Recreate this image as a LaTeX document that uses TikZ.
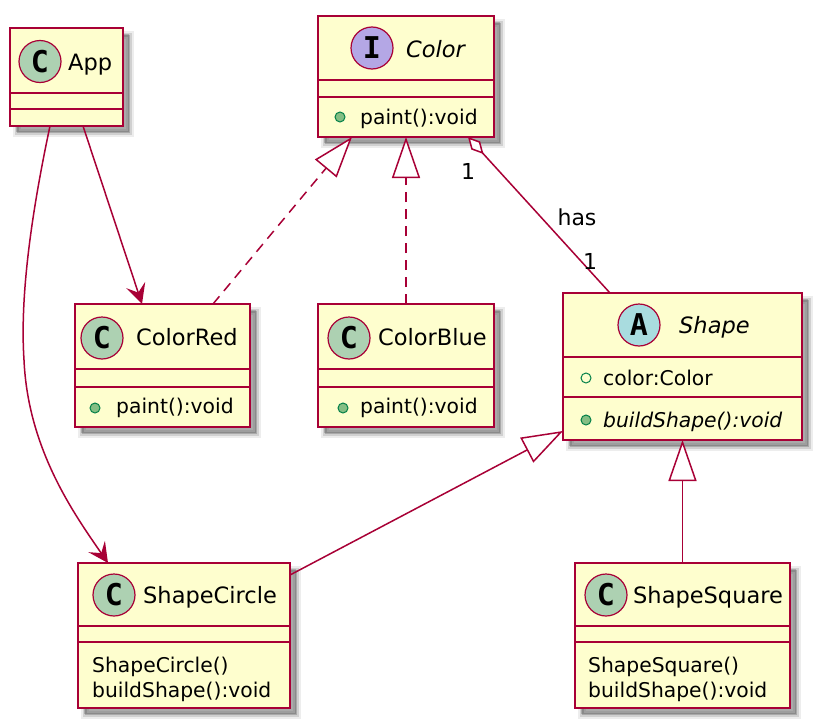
\documentclass[tikz,border=0pt]{standalone}
\usepackage{fontspec}
\setmainfont{DejaVu Sans}
\newfontfamily\spotfont{DejaVu Sans Mono}
\usetikzlibrary{arrows.meta,fit}
\definecolor{umlborder}{HTML}{A80036}
\definecolor{umlfill}{HTML}{FEFECE}
\definecolor{spotC}{HTML}{ADD1B2}
\definecolor{spotI}{HTML}{B4A7E5}
\definecolor{spotA}{HTML}{A9DCDF}
\definecolor{pubfill}{HTML}{84BE84}
\definecolor{publine}{HTML}{038048}
\begin{document}
\begin{tikzpicture}[x=1pt,y=-1pt,
  classbox/.style={draw=umlborder, fill=umlfill, line width=2.2pt, inner sep=0pt, outer sep=0pt,
    preaction={fill=black, opacity=0.07, draw=black, line width=8pt, transform canvas={xshift=7pt,yshift=-7pt}},
    preaction={fill=black, opacity=0.12, draw=black, line width=4pt, transform canvas={xshift=7pt,yshift=-7pt}},
    preaction={fill=black, opacity=0.18, transform canvas={xshift=6pt,yshift=-6pt}}},
  sepline/.style={draw=umlborder, line width=2.2pt},
  spot/.style={circle, draw=umlborder, line width=1.2pt, minimum size=42pt, inner sep=0pt,
    font=\spotfont\bfseries\fontsize{30}{30}\selectfont},
  title/.style={inner sep=0pt, anchor=base west, font=\fontsize{22.5}{26}\selectfont},
  member/.style={inner sep=0pt, anchor=base west, font=\fontsize{20.3}{24}\selectfont},
  pubmeth/.style={circle, draw=publine, fill=pubfill, line width=1pt, minimum size=10pt, inner sep=0pt},
  pubfield/.style={circle, draw=publine, fill=umlfill, line width=1pt, minimum size=10pt, inner sep=0pt},
  link/.style={draw=umlborder, line width=1.5pt},
  arrowto/.style={-{Stealth[length=20pt,width=20pt,inset=8pt]}},
  realize/.style={dash pattern=on 10pt off 7pt, -{Triangle[open,length=41pt,width=28pt,fill=white]}},
  extend/.style={-{Triangle[open,length=41pt,width=28pt,fill=white]}},
  aggr/.style={{Diamond[open,length=23pt,width=12pt,fill=white]}-},
  elabel/.style={inner sep=0pt, anchor=base, font=\fontsize{22}{26}\selectfont}]

\useasboundingbox[fill=white] (0,0) rectangle (814,728);

% ---------- App ----------
\node[classbox, fit={(10,28) (123,126)}] (App) {};
\draw[sepline] (App.west |- 0,93) -- (App.east |- 0,93);
\draw[sepline] (App.west |- 0,109) -- (App.east |- 0,109);
\node[spot, fill=spotC] (AppSpot) at (40,61.5) {C};
\node[title] (AppName) at (68,70) {App};

% ---------- Color ----------
\node[classbox, fit={(318,16) (494,137)}] (Color) {};
\draw[sepline] (Color.west |- 0,80) -- (Color.east |- 0,80);
\draw[sepline] (Color.west |- 0,97) -- (Color.east |- 0,97);
\node[spot, fill=spotI] (ColorSpot) at (372,48) {I};
\node[title] (ColorName) at (406,57) {\itshape Color};
\node[pubmeth] (ColorB1) at (340,117) {};
\node[member] (ColorM1) at (360,124) {paint():void};

% ---------- ColorRed ----------
\node[classbox, fit={(75,304) (250,427)}] (ColorRed) {};
\draw[sepline] (ColorRed.west |- 0,369) -- (ColorRed.east |- 0,369);
\draw[sepline] (ColorRed.west |- 0,387) -- (ColorRed.east |- 0,387);
\node[spot, fill=spotC] (ColorRedSpot) at (102,338) {C};
\node[title] (ColorRedName) at (136,345) {ColorRed};
\node[pubmeth] (ColorRedB1) at (95,408) {};
\node[member] (ColorRedM1) at (116,413) {paint():void};

% ---------- ColorBlue ----------
\node[classbox, fit={(318,304) (494,427)}] (ColorBlue) {};
\draw[sepline] (ColorBlue.west |- 0,369) -- (ColorBlue.east |- 0,369);
\draw[sepline] (ColorBlue.west |- 0,387) -- (ColorBlue.east |- 0,387);
\node[spot, fill=spotC] (ColorBlueSpot) at (349,338) {C};
\node[title] (ColorBlueName) at (378,345) {ColorBlue};
\node[pubmeth] (ColorBlueB1) at (343,408) {};
\node[member] (ColorBlueM1) at (360,413) {paint():void};

% ---------- Shape ----------
\node[classbox, fit={(563,293) (802,440)}] (Shape) {};
\draw[sepline] (Shape.west |- 0,357) -- (Shape.east |- 0,357);
\draw[sepline] (Shape.west |- 0,397) -- (Shape.east |- 0,397);
\node[spot, fill=spotA] (ShapeSpot) at (639,325) {A};
\node[title] (ShapeName) at (679,333) {\itshape Shape};
\node[pubfield] (ShapeB1) at (586,378) {};
\node[member] (ShapeM1) at (603,385) {color:Color};
\node[pubmeth] (ShapeB2) at (586,420) {};
\node[member] (ShapeM2) at (603,427) {\itshape buildShape():void};

% ---------- ShapeCircle ----------
\node[classbox, fit={(78,563) (290,708)}] (ShapeCircle) {};
\draw[sepline] (ShapeCircle.west |- 0,626) -- (ShapeCircle.east |- 0,626);
\draw[sepline] (ShapeCircle.west |- 0,642) -- (ShapeCircle.east |- 0,642);
\node[spot, fill=spotC] (ShapeCircleSpot) at (114,595) {C};
\node[title] (ShapeCircleName) at (143,603) {ShapeCircle};
\node[member] (ShapeCircleM1) at (92,672) {ShapeCircle()};
\node[member] (ShapeCircleM2) at (92,697) {buildShape():void};

% ---------- ShapeSquare ----------
\node[classbox, fit={(575,563) (790,708)}] (ShapeSquare) {};
\draw[sepline] (ShapeSquare.west |- 0,626) -- (ShapeSquare.east |- 0,626);
\draw[sepline] (ShapeSquare.west |- 0,642) -- (ShapeSquare.east |- 0,642);
\node[spot, fill=spotC] (ShapeSquareSpot) at (606,595) {C};
\node[title] (ShapeSquareName) at (633,603) {ShapeSquare};
\node[member] (ShapeSquareM1) at (588,672) {ShapeSquare()};
\node[member] (ShapeSquareM2) at (588,697) {buildShape():void};

% ---------- connectors ----------
\coordinate (bendA) at (24,360);
\draw[link, arrowto] ([xshift=16.5pt]App.south) -- ([xshift=-20.5pt]ColorRed.north);
\draw[link, arrowto] ([xshift=-16.5pt]App.south) .. controls (30,220) and (20,300) .. (bendA)
  .. controls (28,450) and (75,515) .. ([xshift=-76pt]ShapeCircle.north);
\draw[link, realize] ([xshift=50.5pt]ColorRed.north) -- ([xshift=-54pt]Color.south);
\draw[link, realize] (ColorBlue.north) -- (Color.south);
\draw[link, aggr] ([xshift=62pt]Color.south) -- ([xshift=-72.5pt]Shape.north);
\node[elabel] (m1) at (468,179) {1};
\node[elabel] (has) at (577,225) {has};
\node[elabel] (m2) at (590,269) {1};
\draw[link, extend] ([yshift=-12pt]ShapeCircle.north east) -- ([yshift=9pt]Shape.south west);
\draw[link, extend] (ShapeSquare.north) -- (Shape.south);
\end{tikzpicture}
\end{document}
